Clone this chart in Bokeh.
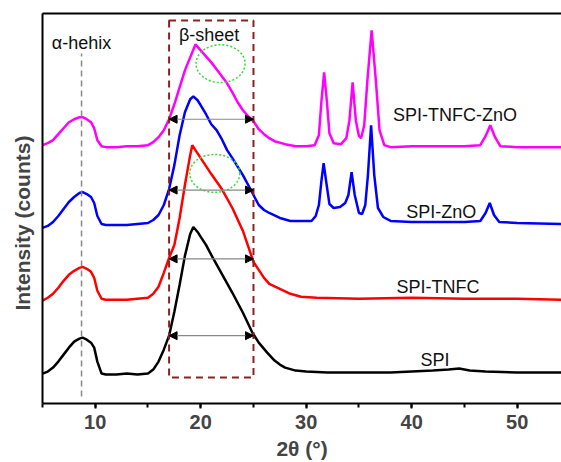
from bokeh.plotting import figure
from bokeh.models import (Range1d, LinearAxis, Arrow, NormalHead, SingleIntervalTicker,
                          FixedTicker, ColumnDataSource)
from bokeh.core.properties import value
from bokeh.embed import file_html
from bokeh.resources import INLINE

# ---------------- data (2theta in degrees, stacked intensity in a.u.) ----------------
theta_spi = [5.0, 5.5, 6.0, 6.5, 7.0, 7.5, 8.0, 8.5, 8.8, 9.2,
             9.6, 9.9, 10.2, 10.6, 11.0, 12.0, 13.0, 14.0, 15.0, 15.5,
             16.0, 16.5, 17.0, 17.5, 18.0, 18.5, 19.0, 19.3, 19.7, 20.0,
             20.5, 21.1, 22.0, 23.0, 24.0, 24.9, 25.5, 26.3, 27.0, 27.5,
             28.0, 29.0, 30.0, 32.0, 35.0, 38.0, 40.0, 42.0, 43.5, 44.5,
             45.5, 47.0, 50.0, 52.0, 54.5]
int_spi = [30, 32, 36, 42, 49, 56, 62, 65, 66, 64,
           61, 56, 42, 30, 29, 29, 30, 29, 30, 34,
           42, 54, 68, 92, 119, 148, 170, 177, 172, 167,
           159, 147, 130, 111, 91, 71, 61, 51, 43, 39,
           36, 33, 32, 31, 31, 31, 32, 33, 34, 35,
           33, 32, 31, 31, 31]

theta_tnfc = [5.0, 5.5, 6.0, 6.5, 7.0, 7.5, 8.0, 8.5, 8.8, 9.2,
              9.6, 9.9, 10.2, 10.6, 11.0, 12.0, 13.0, 14.0, 15.0, 15.5,
              16.0, 16.5, 17.0, 17.5, 18.0, 18.5, 19.0, 19.2, 19.5, 20.0,
              20.5, 21.0, 22.0, 23.0, 24.0, 25.0, 25.5, 26.0, 26.5, 27.5,
              28.5, 29.5, 31.0, 35.0, 40.0, 45.0, 50.0, 54.5]
int_tnfc = [103, 106, 110, 116, 123, 129, 133, 136, 137, 135,
            132, 126, 113, 105, 104, 104, 104, 105, 106, 110,
            117, 131, 146, 159, 186, 219, 249, 259, 254, 246,
            238, 230, 215, 196, 173, 142, 134, 126, 120, 115,
            110, 107, 106, 105, 106, 105, 105, 104]

theta_zno = [5.0, 5.5, 6.0, 6.5, 7.0, 7.5, 8.0, 8.5, 8.8, 9.2,
             9.6, 9.9, 10.2, 10.6, 11.0, 12.0, 13.0, 14.0, 15.0, 15.5,
             16.0, 16.5, 17.0, 17.5, 18.0, 18.5, 19.0, 19.3, 19.7, 20.0,
             20.5, 21.0, 21.5, 22.0, 22.5, 23.0, 24.0, 25.0, 25.5, 26.0,
             26.5, 27.5, 28.5, 29.5, 30.5, 30.9, 31.2, 31.45, 31.65, 31.9,
             32.2, 32.6, 33.2, 33.7, 34.0, 34.3, 34.6, 35.0, 35.3, 35.6,
             35.85, 36.15, 36.45, 36.8, 37.3, 38.0, 40.0, 45.0, 46.5, 47.0,
             47.4, 47.8, 48.3, 50.0, 54.5]
int_zno = [176, 178, 182, 188, 195, 202, 207, 211, 212, 210,
           207, 201, 188, 180, 179, 179, 179, 180, 181, 184,
           189, 199, 215, 239, 269, 292, 305, 308, 304, 299,
           290, 280, 274, 265, 254, 246, 229, 209, 199, 194,
           191, 186, 183, 183, 183, 188, 199, 224, 241, 222,
           200, 196, 197, 201, 209, 232, 209, 191, 190, 199,
           229, 279, 229, 196, 187, 183, 182, 182, 183, 191,
           201, 189, 182, 181, 180]

theta_tz = [5.0, 5.5, 6.0, 6.5, 7.0, 7.5, 8.0, 8.5, 8.8, 9.2,
            9.6, 9.9, 10.2, 10.6, 11.0, 12.0, 13.0, 14.0, 15.0, 15.5,
            16.0, 16.5, 17.0, 17.5, 18.0, 18.5, 19.0, 19.5, 20.0, 20.5,
            21.0, 21.5, 22.0, 22.5, 23.0, 23.5, 24.0, 24.5, 25.0, 25.5,
            26.0, 26.5, 27.0, 28.0, 29.0, 30.0, 30.8, 31.2, 31.45, 31.7,
            31.95, 32.2, 32.6, 33.3, 33.8, 34.1, 34.4, 34.7, 35.0, 35.2,
            35.5, 35.8, 36.2, 36.6, 36.95, 37.4, 38.0, 40.0, 45.0, 46.5,
            47.0, 47.45, 47.9, 48.4, 50.0, 54.5]
int_tz = [259, 261, 264, 270, 276, 282, 285, 287, 287, 285,
          282, 276, 264, 258, 257, 257, 258, 258, 259, 262,
          267, 274, 285, 300, 317, 334, 347, 360, 354, 348,
          342, 335, 328, 321, 312, 302, 294, 288, 283, 275,
          270, 266, 263, 260, 258, 258, 259, 269, 304, 332,
          304, 271, 261, 260, 266, 284, 322, 284, 268, 266,
          279, 324, 374, 324, 274, 259, 257, 258, 258, 259,
          268, 279, 267, 258, 257, 257]

series_names = ["SPI", "SPI-TNFC", "SPI-ZnO", "SPI-TNFC-ZnO"]
series_colors = ["#000000", "#ff0000", "#0000ff", "#ff00ff"]

# annotation positions (data units)
label_x = [42.2, 42.5, 42.8, 44.1]
label_y = [44, 117, 192, 289]
fwhm_levels = [68, 145, 214, 285]
box_left, box_right, box_bottom, box_top = 17.0, 25.0, 26, 384
helix_x = 8.7
ellipse_x = [21.88, 21.33]
ellipse_y = [340.7, 230.7]
ellipse_w = [4.65, 4.75]
ellipse_h = [38, 38]

FONT = "Liberation Sans"

p = figure(width=561, height=462, x_range=Range1d(5, 54.2), y_range=Range1d(0, 391),
           output_backend="svg", toolbar_location=None,
           min_border_left=42, min_border_right=0, min_border_top=13, min_border_bottom=58)
p.xgrid.visible = False
p.ygrid.visible = False
p.outline_line_color = None
p.background_fill_color = "white"
p.border_fill_color = "white"

xs = [theta_spi, theta_tnfc, theta_zno, theta_tz]
ys = [int_spi, int_tnfc, int_zno, int_tz]
for x, y, c in zip(xs, ys, series_colors):
    p.line(x, y, line_color=c, line_width=2.5)

# beta-sheet dashed box
p.quad(left=[box_left], right=[box_right], bottom=[box_bottom], top=[box_top],
       fill_color=None, line_color="#8b2222", line_dash="7 5", line_width=2)
# alpha-helix dashed line
p.segment(x0=[helix_x], y0=[7], x1=[helix_x], y1=[351], line_color="#888888",
          line_dash="6 4", line_width=1.5)
# green dotted ellipses
p.ellipse(x=ellipse_x, y=ellipse_y, width=ellipse_w, height=ellipse_h, fill_color=None,
          line_color="#33dd33", line_dash="2 2", line_width=1.5)
# double arrows
for lvl in fwhm_levels:
    p.add_layout(Arrow(start=NormalHead(size=8, fill_color="black", line_color="black"),
                       end=NormalHead(size=8, fill_color="black", line_color="black"),
                       x_start=box_left, y_start=lvl, x_end=box_right, y_end=lvl,
                       line_color="#888888", line_width=1.2))

src = ColumnDataSource(dict(x=label_x, y=label_y, t=series_names))
p.text(x="x", y="y", text="t", source=src, text_align="center", text_baseline="middle",
       text_font=value(FONT), text_font_size="18px", text_color="#111111")
p.text(x=[helix_x], y=[361], text=["α-hehix"], text_align="center", text_baseline="middle",
       text_font=value(FONT), text_font_size="18px", text_color="#111111")
p.text(x=[20.8], y=[369], text=["β-sheet"], text_align="center", text_baseline="middle",
       text_font=value(FONT), text_font_size="18px", text_color="#111111")

# axes
xa = p.xaxis[0]
xa.ticker = SingleIntervalTicker(interval=10, num_minor_ticks=2)
xa.axis_line_width = 2
xa.major_tick_line_width = 2
xa.minor_tick_line_width = 2
xa.major_tick_in = 0
xa.major_tick_out = 5
xa.minor_tick_in = 0
xa.minor_tick_out = 4
xa.major_label_text_font = FONT
xa.major_label_text_font_style = "bold"
xa.major_label_text_font_size = "20px"
xa.major_label_standoff = 6
xa.axis_label = "2θ (°)"
xa.axis_label_text_font = FONT
xa.axis_label_text_font_style = "bold"
xa.axis_label_text_font_size = "21px"
xa.axis_label_standoff = 5

ya = p.yaxis[0]
ya.ticker = FixedTicker(ticks=[])
ya.axis_line_width = 2
ya.major_tick_out = 0
ya.major_tick_in = 0
ya.minor_tick_out = 0
ya.minor_tick_in = 0
ya.major_label_standoff = 0
ya.axis_label = "Intensity (counts)" + "\u00a0" * 5
ya.axis_label_text_font = FONT
ya.axis_label_text_font_style = "bold"
ya.axis_label_text_font_size = "21px"
ya.axis_label_standoff = 9

top = LinearAxis(ticker=FixedTicker(ticks=[]), axis_line_width=2,
                 major_tick_out=0, major_tick_in=0, minor_tick_out=0, minor_tick_in=0,
                 major_label_standoff=0)
p.add_layout(top, "above")

open("out.html", "w").write(file_html(p, INLINE))
